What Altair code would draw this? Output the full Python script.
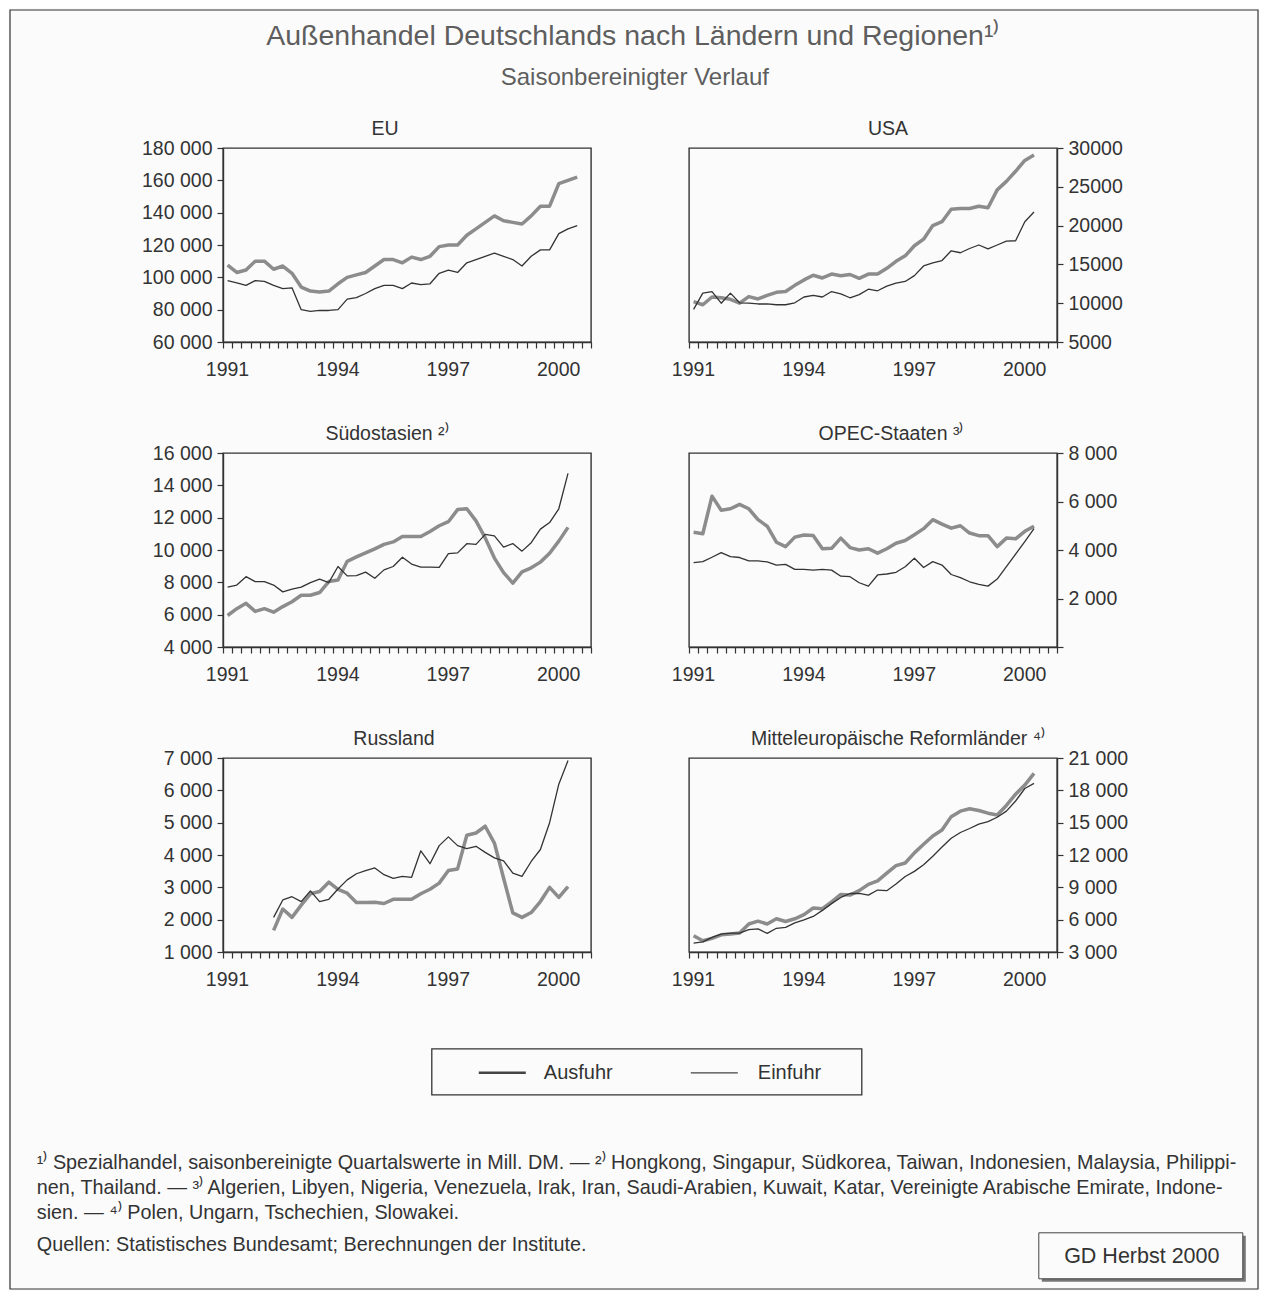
import altair as alt
import pandas as pd

FONT = "Liberation Sans"
INK = "#333333"
TITLE_INK = "#5e5e5e"
BG = "#fbfbfb"
C_AUS = "#8c8c8c"
C_EIN = "#333333"

SERIES = ["Ausfuhr", "Einfuhr"]

# ---------------- data (Mill. DM, seasonally adjusted quarterly values) ----------------
eu_start = "1991Q1"
eu_ausfuhr = [107500, 103000, 104500, 110000, 110000, 105000, 107000, 102500, 94000, 91500,
              91000, 91500, 96000, 100000, 101500, 103000, 107000, 111000, 111000, 109000,
              112500, 111000, 113000, 119000, 120000, 120000, 126000, 130000, 134000, 138000,
              135000, 134000, 133000, 138000, 144000, 144000, 158000, 160000, 162000]
eu_einfuhr = [98000, 96500, 95000, 98000, 97500, 95000, 93000, 93500, 80000, 79000,
              79500, 79500, 80000, 86500, 87500, 90000, 93000, 95000, 95000, 93000,
              96500, 95500, 96000, 102500, 104500, 103000, 109000, 111000, 113000, 115000,
              113000, 111000, 107000, 113000, 117000, 117000, 127000, 130000, 132000]

usa_start = "1991Q1"
usa_ausfuhr = [10200, 9800, 10800, 10700, 10500, 10000, 10850, 10550, 11000, 11400,
               11500, 12300, 13000, 13600, 13250, 13750, 13550, 13700, 13200, 13750,
               13750, 14500, 15400, 16100, 17400, 18250, 20000, 20500, 22100, 22200,
               22200, 22500, 22300, 24600, 25700, 27000, 28400, 29100]
usa_einfuhr = [9200, 11300, 11500, 10000, 11300, 10050, 10000, 9900, 9900, 9800,
               9800, 10050, 10800, 11000, 10800, 11500, 11200, 10700, 11100, 11800,
               11600, 12200, 12600, 12800, 13550, 14800, 15200, 15500, 16750, 16500,
               17050, 17500, 17000, 17500, 18000, 18050, 20500, 21750]

soa_start = "1991Q1"
soa_ausfuhr = [5950, 6370, 6700, 6200, 6370, 6150, 6500, 6800, 7200, 7200,
               7370, 8050, 8150, 9300, 9570, 9820, 10070, 10350, 10500, 10830,
               10830, 10830, 11150, 11500, 11750, 12500, 12550, 11800, 10750, 9500,
               8600, 7950, 8650, 8900, 9250, 9800, 10550, 11400]
soa_einfuhr = [7700, 7830, 8350, 8040, 8040, 7830, 7410, 7580, 7700, 7980,
               8200, 7980, 8980, 8400, 8420, 8630, 8250, 8770, 8980, 9550,
               9130, 8940, 8940, 8920, 9780, 9820, 10390, 10350, 10970, 10870,
               10180, 10400, 9930, 10450, 11290, 11700, 12550, 14740]

opec_start = "1991Q1"
opec_ausfuhr = [4730, 4670, 6220, 5640, 5700, 5880, 5700, 5250, 4980, 4320,
                4140, 4530, 4620, 4600, 4050, 4070, 4490, 4100, 4000, 4050,
                3870, 4050, 4280, 4390, 4630, 4880, 5250, 5070, 4900, 5000,
                4700, 4590, 4590, 4140, 4490, 4460, 4770, 4980]
opec_einfuhr = [3480, 3520, 3700, 3890, 3730, 3690, 3550, 3550, 3510, 3380,
                3410, 3200, 3200, 3170, 3200, 3170, 2920, 2900, 2650, 2510,
                2970, 3010, 3080, 3310, 3660, 3280, 3520, 3380, 2990, 2860,
                2690, 2580, 2510, 2800, 3310, 3830, 4350, 4880]

rus_start = "1992Q2"
rus_ausfuhr = [1670, 2330, 2070, 2450, 2800, 2870, 3160, 2940, 2820, 2530,
               2530, 2540, 2500, 2630, 2630, 2630, 2800, 2940, 3130, 3520,
               3570, 4610, 4680, 4890, 4370, 3280, 2210, 2070, 2220, 2560,
               3000, 2690, 3020]
rus_einfuhr = [2070, 2610, 2710, 2560, 2890, 2560, 2630, 2950, 3230, 3420,
               3520, 3600, 3390, 3280, 3340, 3310, 4130, 3730, 4290, 4560,
               4290, 4200, 4270, 4080, 3910, 3820, 3440, 3340, 3800, 4170,
               5000, 6190, 6920]

moe_start = "1991Q1"
moe_ausfuhr = [4500, 4040, 4260, 4600, 4660, 4760, 5600, 5860, 5600, 6080,
               5830, 6080, 6460, 7080, 7020, 7650, 8340, 8280, 8690, 9280,
               9600, 10320, 11010, 11260, 12200, 12990, 13770, 14310, 15560, 16070,
               16290, 16130, 15880, 15720, 16600, 17640, 18490, 19580]
moe_einfuhr = [3820, 3940, 4350, 4660, 4760, 4760, 5070, 5140, 4730, 5200,
               5290, 5700, 5980, 6300, 6860, 7490, 8060, 8430, 8430, 8280,
               8750, 8690, 9310, 10000, 10480, 11100, 11890, 12740, 13550, 14090,
               14460, 14870, 15090, 15500, 16070, 17010, 18170, 18640]

# axis tick values
eu_ticks = [60000, 80000, 100000, 120000, 140000, 160000, 180000]
usa_ticks = [5000, 10000, 15000, 20000, 25000, 30000]
soa_ticks = [4000, 6000, 8000, 10000, 12000, 14000, 16000]
opec_ticks = [0, 2000, 4000, 6000, 8000]
rus_ticks = [1000, 2000, 3000, 4000, 5000, 6000, 7000]
moe_ticks = [3000, 6000, 9000, 12000, 15000, 18000, 21000]
quarter_ticks = [1991 + k * 0.25 for k in range(41)]

# texts
main_title = "Außenhandel Deutschlands nach Ländern und Regionen¹⁾"
sub_title = "Saisonbereinigter Verlauf"
footnotes = [
    "¹⁾ Spezialhandel, saisonbereinigte Quartalswerte in Mill. DM. — ²⁾ Hongkong, Singapur, Südkorea, Taiwan, Indonesien, Malaysia, Philippi-",
    "nen, Thailand. — ³⁾ Algerien, Libyen, Nigeria, Venezuela, Irak, Iran, Saudi-Arabien, Kuwait, Katar, Vereinigte Arabische Emirate, Indone-",
    "sien. — ⁴⁾ Polen, Ungarn, Tschechien, Slowakei.",
]
source = "Quellen: Statistisches Bundesamt; Berechnungen der Institute."
badge = "GD Herbst 2000"

# ---------------- helpers ----------------
W, H = 368, 194
SPACED = "datum.value == 0 ? '' : replace(format(datum.value, ','), ',', ' ')"
PLAIN = "format(datum.value, 'd')"
YEAR_LABEL = "datum.value % 3 == 2 ? toString(datum.value) : ''"


def long_frame(start, aus, ein):
    year, q = int(start[:4]), int(start[-1])
    t0 = year + (q - 1) / 4 + 0.125
    rows = []
    for name, vals in zip(SERIES, (aus, ein)):
        for i, v in enumerate(vals):
            rows.append({"t": t0 + i * 0.25, "v": v, "Reihe": name})
    return pd.DataFrame(rows)


def text_layer(s, x, y, size, align="left", color=INK, baseline="alphabetic"):
    return alt.Chart(pd.DataFrame({"label": [s]})).mark_text(
        font=FONT, fontSize=size, align=align, baseline=baseline, color=color
    ).encode(text="label:N", x=alt.value(x), y=alt.value(y))


def box_layer(x, x2, y, y2, stroke=INK, width=1.3, fill=None):
    kw = {"strokeWidth": width}
    if stroke:
        kw["stroke"] = stroke
    if fill:
        kw["fill"] = fill
        kw["fillOpacity"] = 1
    else:
        kw["fillOpacity"] = 0
    return alt.Chart(pd.DataFrame({"k": [0]})).mark_rect(**kw).encode(
        x=alt.value(x), x2=alt.value(x2), y=alt.value(y), y2=alt.value(y2))


def rule_layer(x, x2, y, color, width):
    return alt.Chart(pd.DataFrame({"k": [0]})).mark_rule(color=color, strokeWidth=width).encode(
        x=alt.value(x), x2=alt.value(x2), y=alt.value(y))


def panel(title, title_x, start, aus, ein, domain, ticks, orient, label_expr, extra=()):
    df = long_frame(start, aus, ein)
    x = alt.X("t:Q", scale=alt.Scale(domain=[1991, 2001], nice=False, zero=False),
              axis=alt.Axis(values=quarter_ticks, labelExpr=YEAR_LABEL, labelOverlap=False,
                            labelFlush=False, title=None, tickSize=6, labelPadding=12, labelOffset=4))
    y = alt.Y("v:Q", scale=alt.Scale(domain=domain, nice=False, zero=False),
              axis=alt.Axis(orient=orient, values=ticks, labelExpr=label_expr, title=None,
                            tickSize=6, labelPadding=5, labelOverlap=False, labelFlush=False))
    lines = alt.Chart(df).mark_line(strokeJoin="round").encode(
        x=x, y=y,
        color=alt.Color("Reihe:N", scale=alt.Scale(domain=SERIES, range=[C_AUS, C_EIN]), legend=None),
        strokeWidth=alt.StrokeWidth("Reihe:N", scale=alt.Scale(domain=SERIES, range=[3.5, 1.3]),
                                    legend=None),
    )
    head = text_layer(title, title_x, -13, 19.5, align="center")
    return alt.layer(lines, head, *extra).properties(width=W, height=H)


# page decorations, positioned relative to the first panel's plot origin
OX, OY = 222.2, 147.2


def px(X):
    return X - OX


def py(Y):
    return Y - OY


decor = [
    box_layer(-213, 1035, -138, 1141, stroke=INK, width=1.2),
    text_layer(main_title, px(632), py(44), 28.5, align="center", color=TITLE_INK),
    text_layer(sub_title, px(634), py(84), 24, align="center", color=TITLE_INK),
    # legend
    box_layer(px(431), px(861), py(1048), py(1094), stroke=INK, width=1.3),
    rule_layer(px(478), px(525), py(1072), "#444444", 2.6),
    text_layer(SERIES[0], px(543), py(1072), 20, baseline="middle"),
    rule_layer(px(690), px(737), py(1072), "#444444", 1.3),
    text_layer(SERIES[1], px(757), py(1072), 20, baseline="middle"),
    # footnotes
    text_layer(footnotes[0], px(36), py(1168), 19.8),
    text_layer(footnotes[1], px(36), py(1193), 19.8),
    text_layer(footnotes[2], px(36), py(1218), 19.8),
    text_layer(source, px(36), py(1250), 19.8),
    # badge
    box_layer(px(1041), px(1245), py(1235), py(1281), stroke=None, width=0, fill="#777777"),
    box_layer(px(1038), px(1242), py(1232), py(1278), stroke="#444444", width=1.0, fill=BG),
    text_layer(badge, px(1141), py(1262), 21.5, align="center"),
]

eu = panel("EU", 162, eu_start, eu_ausfuhr, eu_einfuhr, [60000, 180000], eu_ticks, "left", SPACED,
           extra=decor)
usa = panel("USA", 199, usa_start, usa_ausfuhr, usa_einfuhr, [5000, 30000], usa_ticks, "right", PLAIN)
soa = panel("Südostasien ²⁾", 164, soa_start, soa_ausfuhr, soa_einfuhr, [4000, 16000], soa_ticks,
            "left", SPACED)
opec = panel("OPEC-Staaten ³⁾", 202, opec_start, opec_ausfuhr, opec_einfuhr, [0, 8000], opec_ticks,
             "right", SPACED)
rus = panel("Russland", 171, rus_start, rus_ausfuhr, rus_einfuhr, [1000, 7000], rus_ticks, "left", SPACED)
moe = panel("Mitteleuropäische Reformländer ⁴⁾", 209, moe_start, moe_ausfuhr, moe_einfuhr,
            [3000, 21000], moe_ticks, "right", SPACED)

chart = alt.concat(
    eu, usa, soa, opec, rus, moe,
    columns=2, spacing={"row": 111, "column": 98}, bounds="flush",
).properties(
    padding=0, background=BG,
).configure_axis(
    labelFont=FONT, labelFontSize=19.5, labelColor=INK, grid=False,
    domainColor=INK, domainWidth=1.4, tickColor=INK, tickWidth=1.2,
).configure_view(
    stroke=INK, strokeWidth=1.4,
)

chart.save("out.html", embed_options={"renderer": "svg", "actions": False})
